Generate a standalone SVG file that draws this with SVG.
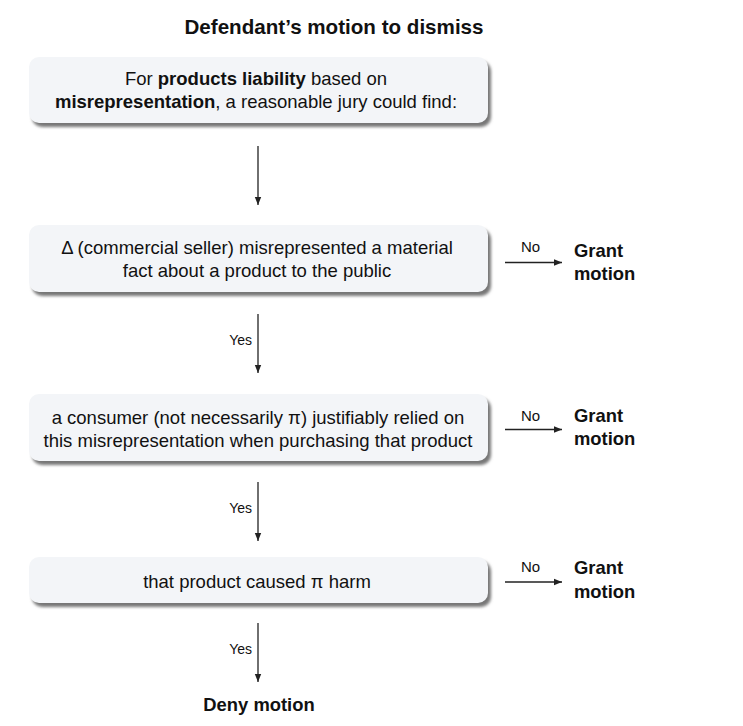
<svg xmlns="http://www.w3.org/2000/svg" width="743" height="726" viewBox="0 0 743 726">
<style>
text{font-family:"Liberation Sans",Arial,sans-serif;fill:#111}
.t{font-size:18.5px}
.h{font-size:20.6px;font-weight:bold}
.g{font-size:18.4px;font-weight:bold}
.b{font-weight:bold}
.s{font-size:14px}
.n{font-size:15px}
.box{fill:#f3f5f8}
.sh{fill:#777;filter:url(#blur)}
.ln{stroke:#222;stroke-width:1.3;fill:none;marker-end:url(#ah)}
</style>
<defs>
<filter id="blur" x="-10%" y="-20%" width="120%" height="140%"><feGaussianBlur stdDeviation="1.6"/></filter>
<marker id="ah" viewBox="0 0 10 10" refX="10" refY="5" markerWidth="8" markerHeight="8" markerUnits="userSpaceOnUse" orient="auto"><path d="M0,1 L10,5 L0,9 z" fill="#222"/></marker>
</defs>
<rect width="743" height="726" fill="#fff"/>
<text x="334" y="34" text-anchor="middle" class="h">Defendant’s motion to dismiss</text>
<g id="n1">
<rect class="sh" x="32" y="61" width="459" height="66" rx="10"/>
<rect class="box" x="29" y="57" width="459" height="66" rx="10"/>
<text x="256" y="85" text-anchor="middle" class="t">For <tspan class="b">products liability</tspan> based on</text>
<text x="256" y="108" text-anchor="middle" class="t"><tspan class="b">misrepresentation</tspan>, a reasonable jury could find:</text>
</g>
<g id="n2">
<rect class="sh" x="32" y="229" width="459" height="67" rx="10"/>
<rect class="box" x="29" y="225" width="459" height="67" rx="10"/>
<text x="257" y="254" text-anchor="middle" class="t">Δ (commercial seller) misrepresented a material</text>
<text x="257" y="277" text-anchor="middle" class="t">fact about a product to the public</text>
</g>
<g id="n3">
<rect class="sh" x="32" y="398" width="459" height="67" rx="10"/>
<rect class="box" x="29" y="394" width="459" height="67" rx="10"/>
<text x="258" y="424" text-anchor="middle" class="t">a consumer (not necessarily π) justifiably relied on</text>
<text x="258" y="447" text-anchor="middle" class="t">this misrepresentation when purchasing that product</text>
</g>
<g id="n4">
<rect class="sh" x="32" y="561" width="459" height="46" rx="10"/>
<rect class="box" x="29" y="557" width="459" height="46" rx="10"/>
<text x="257" y="588" text-anchor="middle" class="t">that product caused π harm</text>
</g>
<g id="g1"><text x="574" y="257" class="g">Grant</text><text x="574" y="280" class="g">motion</text></g>
<g id="g2"><text x="574" y="422" class="g">Grant</text><text x="574" y="445" class="g">motion</text></g>
<g id="g3"><text x="574" y="574" class="g">Grant</text><text x="574" y="598" class="g">motion</text></g>
<g id="deny"><text x="259" y="711" text-anchor="middle" class="g">Deny motion</text></g>
<g id="connectors">
<line class="ln" x1="258" y1="146" x2="258" y2="205"/>
<line class="ln" x1="258" y1="314" x2="258" y2="373"/>
<line class="ln" x1="258" y1="482" x2="258" y2="541"/>
<line class="ln" x1="258" y1="623" x2="258" y2="682"/>
<line class="ln" x1="505" y1="262.5" x2="562" y2="262.5"/>
<line class="ln" x1="505" y1="429.5" x2="562" y2="429.5"/>
<line class="ln" x1="505" y1="582" x2="562" y2="582"/>
<text x="252" y="345" text-anchor="end" class="s">Yes</text>
<text x="252" y="513" text-anchor="end" class="s">Yes</text>
<text x="252" y="654" text-anchor="end" class="s">Yes</text>
<text x="530.5" y="252" text-anchor="middle" class="n">No</text>
<text x="530.5" y="421" text-anchor="middle" class="n">No</text>
<text x="530.5" y="572" text-anchor="middle" class="n">No</text>
</g>
</svg>
